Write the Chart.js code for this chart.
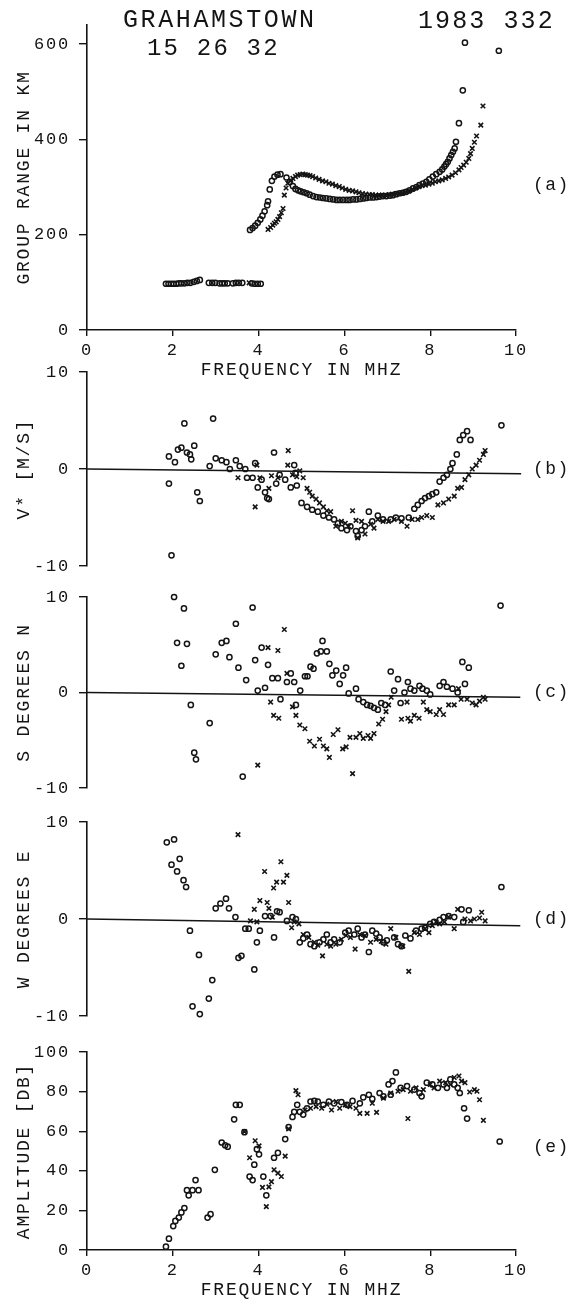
<!DOCTYPE html>
<html>
<head>
<meta charset="utf-8">
<script src="https://cdn.jsdelivr.net/npm/chart.js@4.4.1/dist/chart.umd.min.js"></script>
<style>
  html, body { margin: 0; padding: 0; background: #fff; }
  #wrap { position: relative; width: 567px; height: 1303px; }
  #wrap canvas { position: absolute; left: 0; top: 0; }
</style>
</head>
<body>
<div id="wrap">
  <canvas id="panelA" width="567" height="1303"></canvas>
  <canvas id="panelB" width="567" height="1303"></canvas>
  <canvas id="panelC" width="567" height="1303"></canvas>
  <canvas id="panelD" width="567" height="1303"></canvas>
  <canvas id="panelE" width="567" height="1303"></canvas>
</div>
<script>
// tick labels
const freqTicks = [0, 2, 4, 6, 8, 10];
const rangeTicks = [0, 200, 400, 600];
const angleTicks = [-10, 0, 10];
const ampTicks = [0, 20, 40, 60, 80, 100];

// (a) group range in km, [freq MHz, value]
const rangeO = [
  [1.84,97],[1.90,97],[1.96,97],[2.02,97],[2.08,97],[2.14,98],[2.20,98],[2.27,98],[2.34,99],[2.41,99],
  [2.49,101],[2.56,103],[2.63,105],[2.84,99],[2.92,99],[2.99,99],[3.09,98],[3.15,98],[3.21,98],[3.28,98],
  [3.40,98],[3.47,99],[3.54,99],[3.62,99],[3.84,98],[3.91,97],[3.98,97],[4.05,97],
  [3.80,210],[3.86,214],[3.92,219],[3.98,225],[4.04,232],[4.09,240],[4.14,249],[4.20,262],[4.22,270],[4.26,295],
  [4.31,313],[4.37,322],[4.44,326],[4.51,327],[4.65,320],[4.73,311],[4.80,302],[4.86,296],[4.92,293],[4.98,291],
  [5.05,289],[5.12,287],[5.19,284],[5.27,281],[5.35,279],[5.43,278],[5.50,277],[5.58,276],[5.66,275],[5.74,274],
  [5.82,273],[5.89,273],[5.97,273],[6.05,273],[6.12,273],[6.20,274],[6.28,274],[6.36,275],[6.44,276],[6.51,277],
  [6.59,278],[6.67,278],[6.75,279],[6.82,280],[6.90,281],[6.98,281],[7.06,282],[7.13,283],[7.21,285],[7.29,287],
  [7.36,288],[7.44,290],[7.52,293],[7.60,297],[7.68,300],[7.75,304],[7.83,307],[7.91,311],[7.98,316],[8.06,322],
  [8.14,327],[8.22,332],[8.28,337],[8.33,343],[8.37,348],[8.41,353],[8.45,360],[8.49,367],[8.53,374],[8.57,381],
  [8.60,395],[8.67,434],[8.76,503],[8.81,603],[9.60,586]
];
const rangeX = [
  [3.78,99],
  [4.22,211],[4.28,215],[4.33,220],[4.37,224],[4.41,227],[4.45,232],[4.49,238],[4.53,246],[4.57,255],[4.60,283],
  [4.64,298],[4.68,308],[4.74,313],[4.80,318],[4.86,322],[4.91,325],[4.97,326],[5.03,327],[5.09,326],[5.14,325],
  [5.20,324],[5.26,322],[5.33,319],[5.41,316],[5.49,313],[5.57,311],[5.64,308],[5.72,306],[5.80,303],[5.88,301],
  [5.95,298],[6.03,295],[6.11,293],[6.19,292],[6.27,290],[6.34,288],[6.42,286],[6.50,285],[6.58,284],[6.65,284],
  [6.73,283],[6.81,283],[6.88,283],[6.96,283],[7.04,284],[7.12,285],[7.20,286],[7.27,287],[7.35,288],[7.43,290],
  [7.50,292],[7.58,295],[7.66,298],[7.74,301],[7.81,303],[7.89,304],[7.97,306],[8.05,308],[8.12,311],[8.20,313],
  [8.28,315],[8.36,318],[8.43,321],[8.51,325],[8.59,330],[8.67,336],[8.72,341],[8.78,346],[8.84,352],[8.90,360],
  [8.94,370],[8.98,381],[9.03,394],[9.08,407],[9.18,430],[9.23,470]
];

// (b) V* in m/s
const velO = [
  [1.91,1.3],[2.05,0.7],[1.91,-1.5],[1.97,-8.9],[2.12,2.0],[2.20,2.2],[2.27,4.7],[2.33,1.7],[2.40,1.5],[2.43,1.0],
  [2.50,2.4],[2.57,-2.4],[2.63,-3.3],[2.86,0.3],[2.94,5.2],[2.92,-10.6],[3.00,1.1],[3.14,0.9],[3.25,0.7],[3.33,0],
  [3.47,0.9],[3.56,0.3],[3.69,0],[3.73,-0.9],[3.86,-0.9],[3.92,0.6],[3.98,-1.9],[4.07,-1.1],[4.15,-2.4],[4.20,-3.0],
  [4.24,-3.1],[4.36,1.7],[4.41,-1.5],[4.49,-0.6],[4.62,-1.1],[4.75,-1.9],[4.83,0.4],[4.86,-0.4],[4.89,-1.7],[5.00,-3.5],
  [5.13,-3.9],[5.25,-4.2],[5.38,-4.4],[5.51,-4.8],[5.64,-5.0],[5.76,-5.2],[5.85,-5.6],[5.93,-6.1],[6.06,-6.3],[6.14,-5.9],
  [6.27,-6.4],[6.31,-6.9],[6.40,-6.3],[6.48,-5.9],[6.57,-4.4],[6.65,-5.4],[6.78,-4.8],[6.90,-5.2],[7.08,-5.2],[7.20,-5.0],
  [7.33,-5.1],[7.50,-5.0],[7.63,-4.1],[7.71,-3.7],[7.80,-3.3],[7.88,-3.0],[7.97,-2.8],[8.05,-2.6],[8.14,-2.4],[8.22,-1.3],
  [8.31,-0.9],[8.39,-0.6],[8.47,0],[8.52,0.6],[8.62,1.5],[8.69,3.0],[8.77,3.5],[8.86,3.9],[8.94,3.0],[9.66,4.5]
];
const velX = [
  [3.52,-0.9],[3.92,-3.9],[3.96,0.4],[4.03,-0.9],[4.24,-2.0],[4.30,-0.7],[4.45,-0.9],[4.69,1.9],[4.68,0.4],[4.79,-0.6],
  [4.89,-0.8],[4.96,-0.2],[5.04,-0.9],[5.13,-2.0],[5.19,-2.4],[5.25,-2.8],[5.34,-3.1],[5.42,-3.5],[5.51,-3.9],[5.59,-4.3],
  [5.68,-4.4],[5.80,-5.9],[5.93,-5.4],[6.02,-5.6],[6.10,-5.9],[6.19,-4.3],[6.27,-5.3],[6.31,-7.1],[6.40,-5.4],[6.48,-6.7],
  [6.61,-5.7],[6.69,-6.1],[6.78,-5.2],[6.90,-5.4],[7.03,-5.4],[7.16,-5.2],[7.33,-5.4],[7.46,-5.9],[7.58,-5.2],[7.71,-5.2],
  [7.80,-5.0],[7.92,-4.8],[8.05,-5.0],[8.18,-3.7],[8.31,-3.5],[8.43,-3.1],[8.56,-2.8],[8.64,-2.0],[8.73,-1.9],[8.81,-1.1],
  [8.90,-0.6],[8.98,0],[9.07,0.4],[9.15,0.9],[9.24,1.5],[9.28,1.9]
];

// (c) S degrees N
const southO = [
  [2.03,10.0],[2.26,8.8],[2.10,5.2],[2.33,5.1],[2.20,2.8],[2.42,-1.3],[2.50,-6.3],[2.54,-7.0],[2.86,-3.2],[3.00,4.0],
  [3.14,5.2],[3.25,5.4],[3.32,3.7],[3.47,7.2],[3.53,2.6],[3.71,1.3],[3.86,8.9],[3.63,-8.8],[3.92,3.4],[3.98,0.2],
  [4.07,4.7],[4.15,0.5],[4.22,2.9],[4.32,1.5],[4.45,1.5],[4.51,-0.7],[4.66,1.1],[4.75,2.0],[4.83,1.1],[4.87,-1.3],
  [4.97,0.2],[5.08,1.7],[5.14,1.7],[5.21,2.7],[5.28,2.5],[5.36,4.1],[5.45,4.3],[5.49,5.4],[5.59,4.3],[5.65,3.0],
  [5.72,1.8],[5.81,2.3],[5.89,0.9],[5.97,1.8],[6.04,2.6],[6.10,-0.1],[6.27,0.4],[6.33,-0.7],[6.44,-1.0],[6.53,-1.3],
  [6.61,-1.4],[6.69,-1.6],[6.78,-1.8],[6.86,-1.1],[6.95,-1.3],[7.08,2.2],[7.16,0.2],[7.25,1.4],[7.31,-1.1],[7.40,0],
  [7.48,1.1],[7.54,0.4],[7.63,0.2],[7.75,0.7],[7.82,0.4],[7.92,0.2],[8.00,-0.2],[8.22,0.7],[8.31,1.1],[8.39,0.6],
  [8.52,0.4],[8.64,0],[8.75,3.2],[8.90,2.6],[8.81,0.9],[9.64,9.1]
];
const southX = [
  [3.98,-7.6],[4.22,4.7],[4.28,-1.0],[4.35,-2.4],[4.47,-2.7],[4.45,4.4],[4.60,6.6],[4.66,2.0],[4.79,-1.5],[4.87,-2.4],
  [4.96,-3.4],[5.08,-3.8],[5.19,-5.1],[5.30,-5.6],[5.42,-4.9],[5.51,-5.6],[5.59,-5.9],[5.65,-6.8],[5.74,-4.4],[5.85,-3.9],
  [5.96,-5.9],[6.04,-5.7],[6.19,-8.5],[6.13,-4.7],[6.27,-4.7],[6.36,-4.3],[6.44,-4.8],[6.55,-4.5],[6.61,-4.8],[6.69,-4.3],
  [6.80,-3.3],[6.89,-2.8],[6.97,-2.0],[7.03,-1.3],[7.09,-0.5],[7.33,-2.8],[7.46,-1.0],[7.48,-2.7],[7.54,-3.0],[7.63,-2.4],
  [7.74,-2.7],[7.84,-1.0],[7.92,-1.8],[8.00,-2.0],[8.14,-2.3],[8.22,-1.8],[8.31,-2.3],[8.43,-1.3],[8.56,-1.3],[8.66,0.4],
  [8.72,-0.7],[8.86,-0.7],[8.98,-1.1],[9.07,-1.3],[9.15,-0.9],[9.24,-0.5],[9.28,-0.7]
];

// (d) W degrees E
const westO = [
  [1.86,7.9],[2.03,8.2],[1.97,5.6],[2.16,6.2],[2.10,4.9],[2.25,4.0],[2.31,3.3],[2.40,-1.2],[2.46,-9.0],[2.61,-3.7],
  [2.63,-9.8],[2.84,-8.2],[2.92,-6.3],[3.00,1.1],[3.11,1.6],[3.24,2.1],[3.31,1.1],[3.46,0.2],[3.53,-4.0],[3.60,-3.8],
  [3.69,-1.0],[3.77,-1.0],[3.90,-5.2],[3.96,-2.4],[4.03,-1.2],[4.15,0.3],[4.28,0.3],[4.36,-1.9],[4.43,0.8],[4.49,0.7],
  [4.66,-0.2],[4.79,0.2],[4.87,0],[4.96,-2.4],[5.04,-2.0],[5.13,-1.6],[5.21,-2.6],[5.30,-2.8],[5.42,-2.4],[5.51,-2.1],
  [5.59,-1.6],[5.68,-2.4],[5.76,-2.1],[5.89,-2.4],[6.02,-1.4],[6.10,-1.2],[6.23,-1.6],[6.31,-1.0],[6.40,-1.9],[6.48,-1.6],
  [6.57,-3.4],[6.65,-1.2],[6.74,-1.5],[6.82,-1.9],[6.91,-2.4],[6.99,-2.2],[7.16,-1.9],[7.25,-2.6],[7.33,-2.8],[7.42,-1.7],
  [7.54,-2.0],[7.67,-1.2],[7.80,-1.0],[7.88,-0.9],[8.00,-0.5],[8.09,-0.3],[8.22,-0.1],[8.31,0.2],[8.43,0.3],[8.56,0.2],
  [8.73,1.0],[8.90,0.9],[8.77,-0.3],[9.66,3.3]
];
const westX = [
  [3.52,8.7],[3.81,-0.2],[3.83,-11.0],[3.90,1.0],[3.96,-0.3],[4.03,1.9],[4.14,4.9],[4.20,1.7],[4.24,1.1],[4.32,0.2],
  [4.35,3.2],[4.42,3.8],[4.52,5.9],[4.58,3.8],[4.66,4.5],[4.70,1.7],[4.77,-0.9],[4.83,-0.3],[4.94,-0.5],[5.04,-1.6],
  [5.17,-1.9],[5.30,-2.4],[5.38,-2.7],[5.49,-3.8],[5.59,-2.6],[5.68,-2.8],[5.80,-2.6],[5.93,-2.1],[6.04,-1.7],[6.14,-1.9],
  [6.25,-3.1],[6.36,-1.6],[6.48,-1.7],[6.61,-2.4],[6.74,-2.1],[6.86,-2.3],[6.97,-2.6],[7.08,-1.0],[7.20,-1.9],[7.36,-2.8],
  [7.50,-5.4],[7.63,-1.4],[7.75,-1.6],[7.88,-1.0],[7.97,-1.4],[8.05,-0.7],[8.14,-0.3],[8.22,-0.5],[8.33,-0.3],[8.43,0.2],
  [8.56,-1.0],[8.64,1.0],[8.81,0],[8.94,-0.2],[9.03,0],[9.15,0.1],[9.20,0.7],[9.28,-0.2]
];

// (e) amplitude in dB
const ampO = [
  [1.84,1.7],[1.91,5.7],[2.01,12.1],[2.06,14.7],[2.14,16.4],[2.20,19.0],[2.27,21.2],[2.33,30.2],[2.37,27.6],[2.46,30.2],
  [2.53,35.3],[2.60,30.2],[2.81,16.4],[2.88,18.1],[2.98,40.5],[3.14,54.3],[3.22,52.9],[3.28,52.2],[3.43,66.0],[3.47,73.3],
  [3.56,73.3],[3.67,59.5],[3.79,37.1],[3.86,35.3],[3.90,43.1],[3.96,50.9],[4.01,48.3],[4.11,37.1],[4.18,27.6],[4.36,46.6],
  [4.45,49.1],[4.62,56.0],[4.70,62.1],[4.79,67.2],[4.83,69.8],[4.90,73.3],[4.96,69.8],[5.04,68.4],[5.13,71.6],[5.21,75.0],
  [5.30,75.3],[5.38,75.0],[5.51,73.3],[5.64,75.0],[5.76,74.1],[5.93,74.7],[6.06,73.3],[6.19,75.3],[6.36,74.1],[6.44,77.1],
  [6.57,78.4],[6.65,76.4],[6.82,79.3],[6.91,77.6],[7.03,83.6],[7.08,78.4],[7.12,85.3],[7.20,89.7],[7.31,81.9],[7.46,82.8],
  [7.63,81.0],[7.75,79.3],[7.80,77.6],[7.92,84.5],[8.05,83.6],[8.18,81.9],[8.31,83.6],[8.39,81.9],[8.47,86.2],[8.56,83.6],
  [8.64,81.9],[8.69,79.3],[8.79,71.6],[8.86,66.4],[9.62,54.8]
];
const ampX = [
  [3.67,59.8],[3.79,46.6],[3.92,55.2],[4.01,52.6],[4.09,31.6],[4.18,21.9],[4.24,31.9],[4.30,34.5],[4.36,40.5],[4.45,38.8],
  [4.53,37.1],[4.62,47.4],[4.70,61.2],[4.87,80.5],[4.92,78.4],[5.08,70.7],[5.21,71.6],[5.34,72.4],[5.47,71.6],[5.59,73.6],
  [5.70,70.7],[5.81,75.0],[5.89,71.6],[6.02,73.3],[6.13,72.4],[6.27,71.6],[6.36,69.0],[6.53,69.0],[6.65,74.1],[6.75,69.5],
  [6.91,76.7],[7.08,79.3],[7.25,80.2],[7.37,81.0],[7.48,66.4],[7.54,80.2],[7.67,81.9],[7.84,81.0],[8.00,83.6],[8.09,81.9],
  [8.22,85.3],[8.36,84.5],[8.47,83.6],[8.56,87.1],[8.67,87.9],[8.73,85.3],[8.81,84.5],[8.92,79.8],[9.03,81.0],[9.09,80.2],
  [9.15,75.9],[9.24,65.5]
];

// zero reference lines of (b), (c), (d)
const zeroB = [[0, 0], [10.12, -0.5]];
const zeroC = [[0, 0], [10.1, -0.5]];
const zeroD = [[0, 0], [10.1, -0.7]];

const FONT = '"Liberation Mono", "DejaVu Sans Mono", monospace';
const INK = '#141414';

const toXY = arr => arr.map(p => ({ x: p[0], y: p[1] }));

const textPlugin = {
  id: 'plotText',
  beforeDraw(chart) {
    chart.ctx.letterSpacing = '1.8px';
  },
  afterDraw(chart, args, opts) {
    const ctx = chart.ctx;
    (opts.items || []).forEach(it => {
      ctx.save();
      ctx.font = it.size + 'px ' + FONT;
      ctx.letterSpacing = it.spacing + 'px';
      ctx.fillStyle = INK;
      ctx.textAlign = 'left';
      let x = it.x, y = it.y;
      if (it.value !== undefined) {
        // panel letter sits right of the plot, level with a value on the y scale
        x = chart.chartArea.right + it.dx;
        y = chart.scales.y.getPixelForValue(it.value);
        ctx.textBaseline = 'middle';
      } else {
        ctx.textBaseline = 'alphabetic';
      }
      ctx.fillText(it.text, x, y);
      ctx.restore();
    });
  }
};

function oSet(data) {
  return {
    data: toXY(data), pointStyle: 'circle', pointRadius: 2.6, borderWidth: 1.5,
    borderColor: INK, backgroundColor: 'rgba(0,0,0,0)', clip: false
  };
}
function xSet(data) {
  return {
    data: toXY(data), pointStyle: 'crossRot', pointRadius: 3.2, borderWidth: 1.6,
    borderColor: INK, backgroundColor: INK, clip: false
  };
}
function zeroSet(data) {
  return {
    data: toXY(data), showLine: true, pointRadius: 0, borderWidth: 1.5,
    borderColor: INK, clip: false
  };
}

function makePanel(id, p) {
  const datasets = [oSet(p.o), xSet(p.x)];
  if (p.zero) datasets.push(zeroSet(p.zero));
  return new Chart(document.getElementById(id), {
    type: 'scatter',
    data: { datasets: datasets },
    options: {
      responsive: false,
      animation: false,
      events: [],
      layout: { padding: { left: 0, right: 51, top: p.top, bottom: p.bottom } },
      plugins: {
        legend: { display: false },
        tooltip: { enabled: false },
        plotText: { items: p.texts }
      },
      scales: {
        x: {
          type: 'linear', min: 0, max: 10,
          display: p.xAxis,
          // hidden x axes of (b)-(d) must take no room
          afterFit: s => { s.height = p.xAxis ? 51 : 0; },
          afterBuildTicks: s => { s.ticks = freqTicks.map(v => ({ value: v })); },
          grid: { drawOnChartArea: false, color: INK, tickLength: 6, lineWidth: 1.4 },
          border: { color: INK, width: 1.6 },
          ticks: { color: INK, padding: 4, maxRotation: 0, font: { family: FONT, size: 17 } },
          title: {
            display: true, text: 'FREQUENCY IN MHZ', color: INK,
            font: { family: FONT, size: 18 }, padding: { top: 0, bottom: 0 }
          }
        },
        y: {
          type: 'linear', min: p.min, max: p.max,
          afterFit: s => { s.width = 87; },
          afterBuildTicks: s => { s.ticks = p.ticks.map(v => ({ value: v })); },
          grid: { drawOnChartArea: false, color: INK, tickLength: 8, lineWidth: 1.4 },
          border: { color: INK, width: 1.6 },
          ticks: { color: INK, padding: 9, font: { family: FONT, size: 17 } },
          title: {
            display: true, text: p.title, color: INK,
            font: { family: FONT, size: 18 }, padding: { top: 13, bottom: 0 }
          }
        }
      }
    },
    plugins: [textPlugin]
  });
}

makePanel('panelA', {
  o: rangeO, x: rangeX, min: 0, max: 640, ticks: rangeTicks,
  title: 'GROUP RANGE IN KM', xAxis: true, top: 25, bottom: 922,
  texts: [
    { text: 'GRAHAMSTOWN', x: 123, y: 27, size: 25, spacing: 2.6 },
    { text: '1983 332', x: 418, y: 28, size: 25, spacing: 2.1 },
    { text: '15 26 32', x: 147, y: 55, size: 24, spacing: 2.2 },
    { text: '(a)', value: 304, dx: 17, size: 18, spacing: 1.5 }
  ]
});
makePanel('panelB', {
  o: velO, x: velX, zero: zeroB, min: -10, max: 10, ticks: angleTicks,
  title: 'V* [M/S]', xAxis: false, top: 372, bottom: 737,
  texts: [{ text: '(b)', value: 0, dx: 17, size: 18, spacing: 1.5 }]
});
makePanel('panelC', {
  o: southO, x: southX, zero: zeroC, min: -10, max: 10, ticks: angleTicks,
  title: 'S DEGREES N', xAxis: false, top: 597, bottom: 515,
  texts: [{ text: '(c)', value: 0, dx: 17, size: 18, spacing: 1.5 }]
});
makePanel('panelD', {
  o: westO, x: westX, zero: zeroD, min: -10, max: 10, ticks: angleTicks,
  title: 'W DEGREES E', xAxis: false, top: 822, bottom: 287,
  texts: [{ text: '(d)', value: 0, dx: 17, size: 18, spacing: 1.5 }]
});
makePanel('panelE', {
  o: ampO, x: ampX, min: 0, max: 100, ticks: ampTicks,
  title: 'AMPLITUDE [DB]', xAxis: true, top: 1052, bottom: 2,
  texts: [{ text: '(e)', value: 52, dx: 17, size: 18, spacing: 1.5 }]
});
</script>
</body>
</html>
